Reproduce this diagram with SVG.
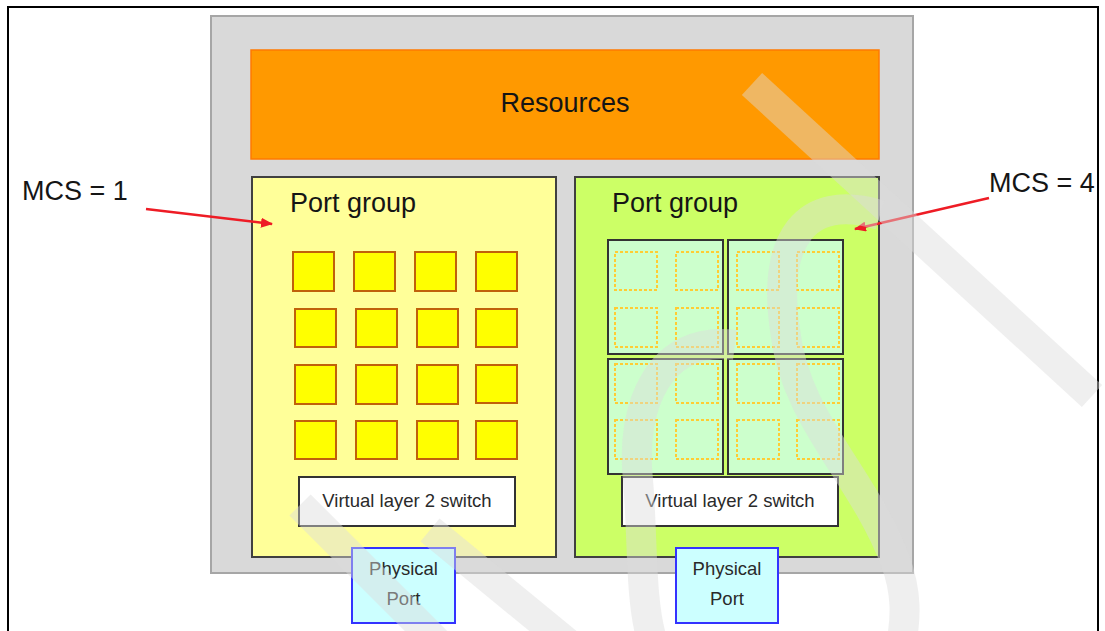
<svg xmlns="http://www.w3.org/2000/svg" width="1105" height="631" viewBox="0 0 1105 631">
  <defs>
    <style>
      .t { font-family: "Liberation Sans", Arial, sans-serif; fill: #151515; }
      .big { font-size: 27px; }
      .sm { font-size: 18.5px; fill: #2a2a2a; }
      .ysq { fill: #ffff00; stroke: #c0610a; stroke-width: 2; }
      .gbox { fill: #ccffcc; stroke: #333; stroke-width: 2; }
      .dsq { fill: none; stroke: #ffcc33; stroke-width: 2; stroke-dasharray: 3 2; }
      .sw { fill: #ffffff; stroke: #333; stroke-width: 2; }
      .pp { fill: #ccffff; stroke: #3333ff; stroke-width: 2; }
      .arr { stroke: #ee1c25; stroke-width: 2.5; fill: none; marker-end: url(#ah); }
      .wm { stroke: #dcdcdc; stroke-opacity: 0.45; stroke-width: 30; fill: none; stroke-linecap: butt; }
    </style>
    <marker id="ah" viewBox="0 0 12 10" refX="11" refY="5" markerWidth="12" markerHeight="10" markerUnits="userSpaceOnUse" orient="auto">
      <path d="M0,0 L12,5 L0,10 z" fill="#ee1c25"/>
    </marker>
  </defs>

  <rect width="1105" height="631" fill="#ffffff"/>
  <path d="M8,631 V7 H1098 V631" fill="none" stroke="#000" stroke-width="2"/>

  <g id="container">
    <rect x="211" y="16" width="702" height="557" fill="#d9d9d9" stroke="#a6a6a6" stroke-width="2"/>
  </g>

  <g id="resources">
    <rect x="251" y="50" width="628" height="109" fill="#ff9900" stroke="#ff7a00" stroke-width="1.5"/>
    <text class="t big" x="565" y="112" text-anchor="middle">Resources</text>
  </g>

  <g id="portgroup-left">
    <rect x="252" y="177" width="304" height="380" fill="#ffff99" stroke="#404040" stroke-width="2"/>
    <text class="t big" x="290" y="212">Port group</text>
    <g id="mcs1-ports">
      <rect class="ysq" x="293" y="252" width="41" height="39"/>
      <rect class="ysq" x="354" y="252" width="41" height="39"/>
      <rect class="ysq" x="415" y="252" width="41" height="39"/>
      <rect class="ysq" x="476" y="252" width="41" height="39"/>
      <rect class="ysq" x="295" y="309" width="41" height="38"/>
      <rect class="ysq" x="356" y="309" width="41" height="38"/>
      <rect class="ysq" x="417" y="309" width="41" height="38"/>
      <rect class="ysq" x="476" y="309" width="41" height="38"/>
      <rect class="ysq" x="295" y="365" width="41" height="39"/>
      <rect class="ysq" x="356" y="365" width="41" height="39"/>
      <rect class="ysq" x="417" y="365" width="41" height="39"/>
      <rect class="ysq" x="476" y="365" width="41" height="38"/>
      <rect class="ysq" x="295" y="421" width="41" height="38"/>
      <rect class="ysq" x="356" y="421" width="41" height="38"/>
      <rect class="ysq" x="417" y="421" width="41" height="38"/>
      <rect class="ysq" x="476" y="421" width="41" height="38"/>
    </g>
    <g id="switch-left">
      <rect class="sw" x="299" y="477" width="216" height="49"/>
      <text class="t sm" x="407" y="507" text-anchor="middle">Virtual layer 2 switch</text>
    </g>
  </g>

  <g id="portgroup-right">
    <rect x="575" y="177" width="304" height="380" fill="#ccff66" stroke="#404040" stroke-width="2"/>
    <text class="t big" x="612" y="212">Port group</text>
    <g id="mcs4-ports">
      <rect class="gbox" x="608" y="240" width="115" height="114"/>
      <rect class="gbox" x="728" y="240" width="115" height="114"/>
      <rect class="gbox" x="608" y="359" width="115" height="115"/>
      <rect class="gbox" x="728" y="359" width="115" height="115"/>
      <rect class="dsq" x="615" y="252" width="42" height="38"/>
      <rect class="dsq" x="676" y="252" width="42" height="38"/>
      <rect class="dsq" x="737" y="252" width="42" height="38"/>
      <rect class="dsq" x="797" y="252" width="42" height="38"/>
      <rect class="dsq" x="615" y="308" width="42" height="39"/>
      <rect class="dsq" x="676" y="308" width="42" height="39"/>
      <rect class="dsq" x="737" y="308" width="42" height="39"/>
      <rect class="dsq" x="797" y="308" width="42" height="39"/>
      <rect class="dsq" x="615" y="364" width="42" height="39"/>
      <rect class="dsq" x="676" y="364" width="42" height="39"/>
      <rect class="dsq" x="737" y="364" width="42" height="39"/>
      <rect class="dsq" x="797" y="364" width="42" height="39"/>
      <rect class="dsq" x="615" y="420" width="42" height="39"/>
      <rect class="dsq" x="676" y="420" width="42" height="39"/>
      <rect class="dsq" x="737" y="420" width="42" height="39"/>
      <rect class="dsq" x="797" y="420" width="42" height="39"/>
    </g>
    <g id="switch-right">
      <rect class="sw" x="622" y="477" width="216" height="49"/>
      <text class="t sm" x="730" y="507" text-anchor="middle">Virtual layer 2 switch</text>
    </g>
  </g>

  <g id="physport-left">
    <rect class="pp" x="352" y="548" width="103" height="75"/>
    <text class="t sm" x="403.5" y="575" text-anchor="middle">Physical</text>
    <text class="t sm" x="403.5" y="605" text-anchor="middle">Port</text>
  </g>
  <g id="physport-right">
    <rect class="pp" x="676" y="548" width="102" height="75"/>
    <text class="t sm" x="727" y="575" text-anchor="middle">Physical</text>
    <text class="t sm" x="727" y="605" text-anchor="middle">Port</text>
  </g>

  <g id="label-mcs1">
    <text class="t big" x="22" y="200">MCS = 1</text>
  </g>
  <g id="label-mcs4">
    <text class="t big" x="989" y="192">MCS = 4</text>
  </g>

  <g id="connectors">
    <line class="arr" x1="146" y1="209" x2="272" y2="224"/>
    <line class="arr" x1="989" y1="198" x2="855" y2="229"/>
  </g>

  <g id="watermark">
    <line class="wm" x1="752" y1="84" x2="1092" y2="396"/>
    <line class="wm" x1="300" y1="505" x2="440" y2="645"/>
    <line class="wm" x1="430" y1="530" x2="570" y2="645"/>
    <path class="wm" stroke-width="36" d="M880,215 C805,192 772,240 785,330 C795,420 860,470 895,560 C908,595 905,620 902,640"/>
    <path class="wm" stroke-width="36" d="M735,345 C660,335 630,405 638,480 C643,540 640,600 652,640"/>
  </g>
</svg>
